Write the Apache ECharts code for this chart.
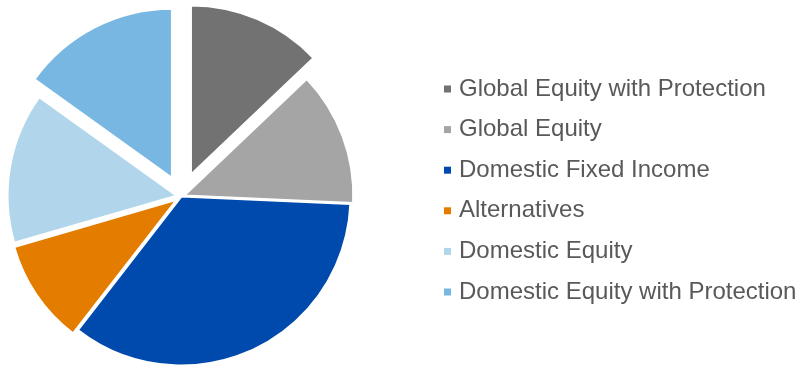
<!DOCTYPE html>
<html>
<head>
<meta charset="utf-8">
<script src="https://cdn.jsdelivr.net/npm/echarts@6/dist/echarts.min.js"></script>
<style>
  html, body { margin: 0; padding: 0; background: #ffffff; }
  #chart { width: 797px; height: 369px; }
</style>
</head>
<body>
<div id="chart"></div>
<script>
// Asset allocation (% of portfolio)
const categories = [
  'Global Equity with Protection',
  'Global Equity',
  'Domestic Fixed Income',
  'Alternatives',
  'Domestic Equity',
  'Domestic Equity with Protection'
];
const shares = [12.9, 12.8, 34.8, 10.0, 14.4, 15.1];

// Styling
const sliceColors = ['#727272', '#a5a5a5', '#004aad', '#e47c00', '#b1d6ec', '#78b7e2'];
const sliceOffsets = [24, 3, 0, 6, 5, 21];

const chart = echarts.init(document.getElementById('chart'), null, { renderer: 'canvas' });

// One pie per slice so every slice can be pulled out by its own distance;
// each pie carries all values so the angles line up, showing only its own slice.
const series = categories.map((name, i) => ({
  type: 'pie',
  center: [181.5, 196.5],
  radius: [0, 169],
  startAngle: 90,
  clockwise: true,
  silent: true,
  animation: false,
  selectedMode: 'multiple',
  selectedOffset: sliceOffsets[i],
  label: { show: false },
  labelLine: { show: false },
  emphasis: { disabled: true },
  itemStyle: { borderColor: '#ffffff', borderWidth: 2 },
  data: shares.map((v, j) => j === i
    ? { name: name, value: v, selected: true, itemStyle: { color: sliceColors[i] } }
    : { name: 'rest-' + i + '-' + j, value: v,
        itemStyle: { color: 'rgba(0,0,0,0)', borderWidth: 0 } })
}));

chart.setOption({
  backgroundColor: '#ffffff',
  animation: false,
  legend: {
    orient: 'vertical',
    left: 444,
    top: 77,
    padding: 0,
    data: categories,
    selectedMode: false,
    icon: 'rect',
    itemWidth: 7,
    itemHeight: 7,
    itemGap: 16.6,
    itemStyle: { borderWidth: 0 },
    textStyle: {
      fontFamily: '"Liberation Sans", Arial, sans-serif',
      fontSize: 24,
      lineHeight: 24,
      color: '#595959',
      padding: [0, 0, 0, 3]
    }
  },
  series: series
});
</script>
</body>
</html>
